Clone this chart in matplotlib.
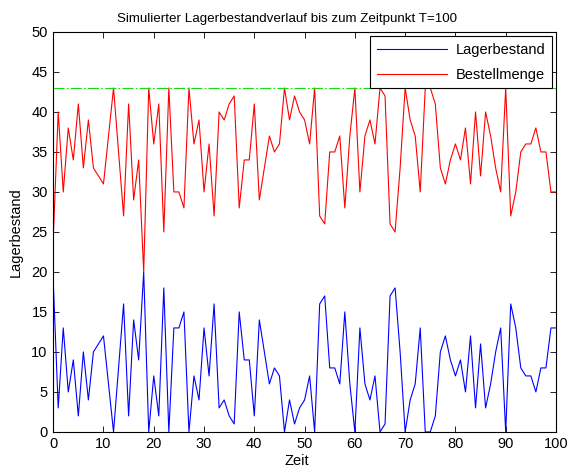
import matplotlib
matplotlib.use("Agg")
import matplotlib.pyplot as plt
import numpy as np

plt.rcParams['font.family'] = ['Liberation Sans', 'DejaVu Sans']

zeit = list(range(0, 101))
lagerbestand = [19, 3, 13, 5, 9, 2, 10, 4, 10, 11,
                12, 6, 0, 8, 16, 2, 14, 9, 20, 0,
                7, 2, 18, 0, 13, 13, 15, 0, 7, 4,
                13, 7, 16, 3, 4, 2, 1, 15, 9, 9,
                2, 14, 10, 6, 8, 7, 0, 4, 1, 3,
                4, 7, 0, 16, 17, 8, 8, 6, 15, 6,
                0, 13, 6, 4, 7, 0, 1, 17, 18, 10,
                0, 4, 6, 13, 0, 0, 2, 10, 12, 9,
                7, 9, 5, 12, 3, 11, 3, 6, 10, 13,
                0, 16, 13, 8, 7, 7, 5, 8, 8, 13,
                13]
bestellmenge = [24, 40, 30, 38, 34, 41, 33, 39, 33, 32,
                31, 37, 43, 35, 27, 41, 29, 34, 20, 43,
                36, 41, 25, 43, 30, 30, 28, 43, 36, 39,
                30, 36, 27, 40, 39, 41, 42, 28, 34, 34,
                41, 29, 33, 37, 35, 36, 43, 39, 42, 40,
                39, 36, 43, 27, 26, 35, 35, 37, 28, 37,
                43, 30, 37, 39, 36, 43, 42, 26, 25, 33,
                43, 39, 37, 30, 43, 43, 41, 33, 31, 34,
                36, 34, 38, 31, 40, 32, 40, 37, 33, 30,
                43, 27, 30, 35, 36, 36, 38, 35, 35, 30,
                30]
bestellniveau = 43
x_ticks = list(range(0, 101, 10))
y_ticks = list(range(0, 51, 5))

fs = 10.5
fig = plt.figure(figsize=(5.72, 4.70), dpi=100)
fig.patch.set_facecolor('white')
ax = fig.add_axes([0.093, 0.081, 0.879, 0.851])

ax.plot(zeit, lagerbestand, color='#0000ff', lw=0.8, label='Lagerbestand')
ax.plot(zeit, bestellmenge, color='#ff0000', lw=0.8, label='Bestellmenge')
ax.plot([zeit[0], zeit[-1]], [bestellniveau, bestellniveau], color='#11dd11',
        lw=0.8, linestyle=(0, (10, 2, 1.5, 2)))

ax.set_xlim(0, 100)
ax.set_ylim(0, 50)
ax.set_xticks(x_ticks)
ax.set_yticks(y_ticks)
ax.tick_params(direction='in', top=True, right=True, length=4, width=0.6,
               labelsize=fs, pad=4)
for s in ax.spines.values():
    s.set_linewidth(0.8)

ax.set_title('Simulierter Lagerbestandverlauf bis zum Zeitpunkt T=100', fontsize=9.6,
             pad=7, x=0.465)
ax.set_xlabel('Zeit', fontsize=fs, labelpad=0)
ax.xaxis.set_label_coords(0.485, -0.055)
ax.set_ylabel('Lagerbestand', fontsize=fs, labelpad=6)

leg = ax.legend(loc='upper right', fontsize=fs, fancybox=False, framealpha=1,
                edgecolor='black', handlelength=4.8, borderaxespad=0.3,
                borderpad=0.45, labelspacing=0.75, handletextpad=0.6)
leg.get_frame().set_linewidth(0.8)

fig.savefig('out.png', dpi=100, facecolor='white')
